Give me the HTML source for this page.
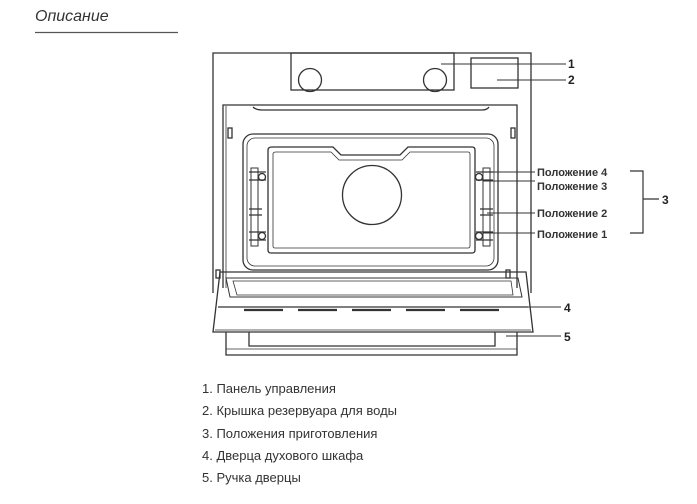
<!DOCTYPE html>
<html><head><meta charset="utf-8"><style>
body{margin:0;width:697px;height:499px;background:#fff;overflow:hidden;font-family:"Liberation Sans",sans-serif}
</style></head><body>
<svg width="697" height="499" viewBox="0 0 697 499" xmlns="http://www.w3.org/2000/svg" font-family="Liberation Sans, sans-serif">
<text x="35" y="21" font-size="16" font-style="italic" fill="#333">Описание</text>
<line x1="35" y1="32.5" x2="178" y2="32.5" stroke="#555" stroke-width="1.2"/>
<g fill="none" stroke="#333" stroke-width="1.3">
<!-- outer -->
<path d="M213,293 V53 H531 V293"/>
<rect x="291" y="53" width="163" height="37"/>
<circle cx="310" cy="80" r="11.5"/>
<circle cx="435" cy="80" r="11.5"/>
<rect x="471" y="58" width="47" height="30"/>
<!-- inner cavity frame -->
<path d="M223,288 V105 H517 V288"/>
<path d="M226,288 V106" stroke-width="0.8"/>
<path d="M253,107 Q256,110 262,110 H482 Q487,110 489,107"/>
<rect x="228" y="128" width="4" height="10"/>
<rect x="511" y="128" width="4" height="10"/>
<rect x="243" y="134" width="255" height="136" rx="10"/>
<rect x="247" y="138" width="247" height="128" rx="8" stroke-width="0.8"/>
<path d="M272,147 H333 L341,155 H400 L408,147 H472 Q475,147 475,150 V250 Q475,253 472,253 H271 Q268,253 268,250 V150 Q268,147 272,147 Z"/>
<path d="M276,152 H331 L339,160 H402 L410,152 H468 Q470,152 470,154 V246 Q470,248 468,248 H275 Q273,248 273,246 V154 Q273,152 276,152 Z" stroke-width="0.8"/>
<circle cx="372" cy="195" r="29.5"/>
<!-- rack supports -->
<rect x="251" y="168" width="7" height="78" stroke-width="1"/>
<rect x="483" y="168" width="7" height="78" stroke-width="1"/>
<circle cx="262" cy="177" r="3.5"/><circle cx="262" cy="236" r="3.5"/>
<circle cx="479" cy="177" r="3.5"/><circle cx="479" cy="236" r="3.5"/>
<path d="M249,172 H266 M249,180 H266 M249,209 H262 M249,215 H262 M249,232 H266 M249,240 H266"/>
<path d="M476,172 H493 M476,180 H493 M480,209 H493 M480,215 H493 M476,232 H493 M476,240 H493"/>
<!-- door -->
<path d="M220,272 H526 L533,332 H213 Z"/>
<path d="M226,278 H518 L522,297 H230 Z" stroke-width="1"/>
<path d="M233,281 H511 L513,295 H237 Z" stroke-width="0.8"/>
<rect x="216" y="270" width="4" height="8"/>
<rect x="506" y="270" width="4" height="8"/>
<line x1="218" y1="307" x2="528" y2="307"/>
<path d="M215,330 H531" stroke-width="0.8"/>
<g stroke-width="2.2"><line x1="244" y1="310" x2="283" y2="310"/><line x1="298" y1="310" x2="337" y2="310"/><line x1="352" y1="310" x2="391" y2="310"/><line x1="406" y1="310" x2="445" y2="310"/><line x1="460" y1="310" x2="499" y2="310"/></g>
<!-- handle -->
<path d="M226,332 V355 H517 V332"/>
<path d="M249,332 V346 H495 V332"/>
<path d="M226,349 H517" stroke-width="0.8"/>
<!-- leaders -->
<line x1="441" y1="64" x2="566" y2="64" stroke-width="1"/>
<line x1="497" y1="80" x2="566" y2="80" stroke-width="1"/>
<line x1="483" y1="172" x2="535" y2="172" stroke-width="1"/>
<line x1="483" y1="181" x2="535" y2="181" stroke-width="1"/>
<line x1="487" y1="213" x2="535" y2="213" stroke-width="1"/>
<line x1="483" y1="233" x2="535" y2="233" stroke-width="1"/>
<path d="M630,171 H643 V233 H630 M643,199 H659" stroke-width="1.2"/>
<line x1="519" y1="307" x2="561" y2="307" stroke-width="1"/>
<line x1="506" y1="336" x2="561" y2="336" stroke-width="1"/>
</g>
<g font-size="12" font-weight="bold" fill="#222">
<text x="568" y="68">1</text><text x="568" y="84">2</text>
<text x="662" y="204">3</text><text x="564" y="312">4</text><text x="564" y="341">5</text>
</g>
<g font-size="11" font-weight="bold" fill="#333">
<text x="537" y="176">Положение 4</text>
<text x="537" y="190">Положение 3</text>
<text x="537" y="217">Положение 2</text>
<text x="537" y="238">Положение 1</text>
</g>
<g font-size="13" fill="#333">
<text x="202" y="393">1. Панель управления</text>
<text x="202" y="415">2. Крышка резервуара для воды</text>
<text x="202" y="438">3. Положения приготовления</text>
<text x="202" y="460">4. Дверца духового шкафа</text>
<text x="202" y="482">5. Ручка дверцы</text>
</g>
</svg>
</body></html>
